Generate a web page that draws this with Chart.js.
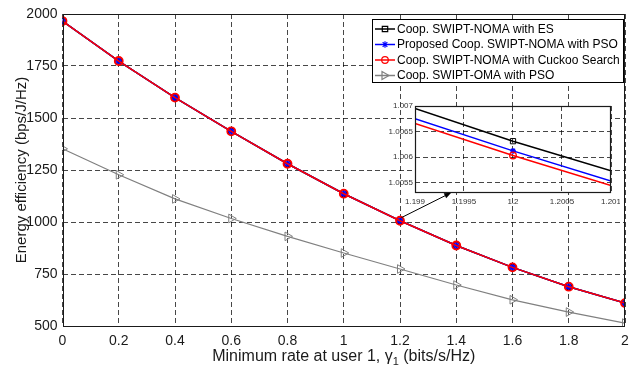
<!DOCTYPE html>
<html><head><meta charset="utf-8">
<script src="https://cdn.jsdelivr.net/npm/chart.js@4.4.1/dist/chart.umd.min.js"></script>
<style>
html,body{margin:0;padding:0;background:#fff;}
#wrap{position:relative;width:631px;height:373px;overflow:hidden;}
#main{position:absolute;left:0;top:0;}
#inset{position:absolute;left:380px;top:100px;}
</style></head><body>
<div id="wrap"><canvas id="main" width="631" height="373"></canvas><canvas id="inset" width="240" height="110"></canvas></div>
<script>
const FONT = "'Liberation Sans', Arial, Helvetica, sans-serif";

// ---- main chart data ----
const xValues = [0, 0.2, 0.4, 0.6, 0.8, 1.0, 1.2, 1.4, 1.6, 1.8, 2.0];
const xTickLabels = ['0', '0.2', '0.4', '0.6', '0.8', '1', '1.2', '1.4', '1.6', '1.8', '2'];
const yTickValues = [500, 750, 1000, 1250, 1500, 1750, 2000];
const yTickLabels = ['500', '750', '1000', '1250', '1500', '1750', '2000'];
const esValues      = [1966, 1774, 1598, 1436, 1280, 1136, 1006.3, 887, 782, 689, 610];
const psoValues     = [1966, 1774, 1598, 1436, 1280, 1136, 1006.1, 887, 782, 689, 610];
const cuckooValues  = [1966, 1774, 1598, 1436, 1280, 1136, 1006.0, 887, 782, 689, 610];
const omaValues     = [1352, 1227, 1111, 1017, 931, 851, 774, 697, 626, 567, 514];
const seriesNames = ['Coop. SWIPT-NOMA with ES', 'Proposed Coop. SWIPT-NOMA with PSO',
                     'Coop. SWIPT-NOMA with Cuckoo Search', 'Coop. SWIPT-OMA with PSO'];
const xTitle = ['Minimum rate at user 1, ', '\u03B3', '1', ' (bits/s/Hz)'];
const yTitle = 'Energy efficiency (bps/J/Hz)';
// arrow annotation (data coords): from main curve near x=1.2 to inset
const arrowFrom = [1.205, 1021];
const arrowTo = [1.382, 1141];

// ---- inset data (values in units of 10^3) ----
const insetX = [1.199, 1.2, 1.201];
const insetXTicks = [1.199, 1.1995, 1.2, 1.2005, 1.201];
const insetXLabels = ['1.199', '1.1995', '1.2', '1.2005', '1.201'];
const insetYTicks = [1.0055, 1.006, 1.0065, 1.007];
const insetYLabels = ['1.0055', '1.006', '1.0065', '1.007'];
const insetES = [1.00695, 1.00631, 1.00573];
const insetPSO = [1.00675, 1.00612, 1.00553];
const insetCuckoo = [1.00666, 1.00603, 1.00544];

const COLORS = ['#000000', '#0000ff', '#ff0000', '#808080'];

function pts(xs, ys) { return xs.map((x, i) => ({x: x, y: ys[i]})); }

function drawMarker(ctx, kind, x, y, color) {
  ctx.save();
  ctx.strokeStyle = color; ctx.lineWidth = 1.2; ctx.setLineDash([]);
  ctx.beginPath();
  if (kind === 'rect') { ctx.rect(x - 2.7, y - 2.7, 5.4, 5.4); }
  else if (kind === 'circle') { ctx.arc(x, y, 3.3, 0, Math.PI * 2); }
  else if (kind === 'star') {
    const r = 3.3;
    ctx.moveTo(x - r, y); ctx.lineTo(x + r, y);
    ctx.moveTo(x, y - r); ctx.lineTo(x, y + r);
    const d = r * 0.707;
    ctx.moveTo(x - d, y - d); ctx.lineTo(x + d, y + d);
    ctx.moveTo(x - d, y + d); ctx.lineTo(x + d, y - d);
  } else if (kind === 'triR') {
    ctx.moveTo(x + 4, y); ctx.lineTo(x - 3, y - 4); ctx.lineTo(x - 3, y + 4); ctx.closePath();
  }
  ctx.stroke();
  ctx.restore();
}

const mainPlugin = {
  id: 'mainDecor',
  beforeDraw(chart) {
    const ctx = chart.ctx;
    ctx.save(); ctx.fillStyle = '#fff'; ctx.fillRect(0, 0, chart.width, chart.height); ctx.restore();
  },
  afterDraw(chart) {
    const ctx = chart.ctx, a = chart.chartArea;
    const xs = chart.scales.x, ys = chart.scales.y;
    ctx.save();
    // box
    ctx.strokeStyle = '#1a1a1a'; ctx.lineWidth = 1; ctx.setLineDash([]);
    ctx.strokeRect(Math.round(a.left) + 0.5, Math.round(a.top) + 0.5,
                   Math.round(a.right) - Math.round(a.left) - 1, Math.round(a.bottom) - Math.round(a.top));
    // arrow
    const x1 = xs.getPixelForValue(arrowFrom[0]), y1 = ys.getPixelForValue(arrowFrom[1]);
    const x2 = xs.getPixelForValue(arrowTo[0]), y2 = ys.getPixelForValue(arrowTo[1]);
    const ang = Math.atan2(y2 - y1, x2 - x1);
    ctx.strokeStyle = '#000'; ctx.fillStyle = '#000'; ctx.lineWidth = 1;
    ctx.beginPath(); ctx.moveTo(x1, y1); ctx.lineTo(x2 - 5 * Math.cos(ang), y2 - 5 * Math.sin(ang)); ctx.stroke();
    ctx.beginPath();
    ctx.moveTo(x2, y2);
    ctx.lineTo(x2 - 7 * Math.cos(ang) + 2.8 * Math.sin(ang), y2 - 7 * Math.sin(ang) - 2.8 * Math.cos(ang));
    ctx.lineTo(x2 - 7 * Math.cos(ang) - 2.8 * Math.sin(ang), y2 - 7 * Math.sin(ang) + 2.8 * Math.cos(ang));
    ctx.closePath(); ctx.fill();
    // legend
    const lx = 372.5, ly = 19.5, lw = 251, lh = 63;
    ctx.fillStyle = '#fff'; ctx.fillRect(lx, ly, lw, lh);
    ctx.strokeStyle = '#000'; ctx.strokeRect(lx, ly, lw, lh);
    const rows = [29, 44.5, 60, 75.5];
    const kinds = ['rect', 'star', 'circle', 'triR'];
    ctx.font = '12px ' + FONT; ctx.textBaseline = 'middle'; ctx.textAlign = 'left';
    rows.forEach((ry, i) => {
      ctx.strokeStyle = COLORS[i]; ctx.lineWidth = 1.5;
      ctx.beginPath(); ctx.moveTo(375, ry); ctx.lineTo(395, ry); ctx.stroke();
      drawMarker(ctx, kinds[i], 385, ry, COLORS[i]);
      ctx.fillStyle = '#000';
      ctx.fillText(seriesNames[i], 397, ry + 0.5);
    });
    // y title
    ctx.save();
    ctx.translate(25.5, (a.top + a.bottom) / 2);
    ctx.rotate(-Math.PI / 2);
    ctx.font = '15px ' + FONT; ctx.textAlign = 'center'; ctx.textBaseline = 'alphabetic'; ctx.fillStyle = '#1a1a1a';
    ctx.fillText(yTitle, 0, 0);
    ctx.restore();
    // x title with subscript
    const big = '16px ' + FONT, small = '11px ' + FONT;
    ctx.font = big; const w0 = ctx.measureText(xTitle[0]).width;
    const w1 = ctx.measureText(xTitle[1]).width;
    const w3 = ctx.measureText(xTitle[3]).width;
    ctx.font = small; const w2 = ctx.measureText(xTitle[2]).width;
    const total = w0 + w1 + w2 + w3;
    let cx = (a.left + a.right) / 2 - total / 2;
    const by = 361;
    ctx.fillStyle = '#1a1a1a'; ctx.textAlign = 'left'; ctx.textBaseline = 'alphabetic';
    ctx.font = big; ctx.fillText(xTitle[0], cx, by); cx += w0;
    ctx.fillText(xTitle[1], cx, by); cx += w1;
    ctx.font = small; ctx.fillText(xTitle[2], cx, by + 4); cx += w2;
    ctx.font = big; ctx.fillText(xTitle[3], cx, by);
    ctx.restore();
  }
};

const gridCfg = {color: 'rgba(0,0,0,0.72)', lineWidth: 1, drawTicks: false};
const noPad = s => { s.paddingLeft = 0; s.paddingRight = 0; s.paddingTop = 0; s.paddingBottom = 0; };

new Chart(document.getElementById('main'), {
  type: 'line',
  data: {
    datasets: [
      {label: seriesNames[0], data: pts(xValues, esValues), borderColor: COLORS[0], borderWidth: 1.5,
       pointStyle: 'rect', pointRadius: 4, pointBorderWidth: 1, pointBorderColor: COLORS[0], pointBackgroundColor: 'rgba(0,0,0,0)', order: 4},
      {label: seriesNames[1], data: pts(xValues, psoValues), borderColor: COLORS[1], borderWidth: 1.5,
       pointStyle: 'star', pointRadius: 3.5, pointBorderWidth: 1.6, pointBorderColor: COLORS[1], pointBackgroundColor: COLORS[1], order: 3},
      {label: seriesNames[2], data: pts(xValues, cuckooValues), borderColor: COLORS[2], borderWidth: 1.5,
       pointStyle: 'circle', pointRadius: 4, pointBorderWidth: 1.8, pointBorderColor: COLORS[2], pointBackgroundColor: 'rgba(0,0,0,0)', order: 2},
      {label: seriesNames[3], data: pts(xValues, omaValues), borderColor: COLORS[3], borderWidth: 1.2,
       pointStyle: 'triangle', pointRotation: 90, pointRadius: 5, pointBorderWidth: 1, pointBorderColor: COLORS[3], pointBackgroundColor: 'rgba(0,0,0,0)', order: 1}
    ]
  },
  options: {
    responsive: false, animation: false, devicePixelRatio: 1,
    layout: {padding: {left: 0, right: 3, top: 14, bottom: 0}},
    elements: {line: {tension: 0}},
    plugins: {legend: {display: false}, tooltip: {enabled: false}},
    scales: {
      x: {
        type: 'linear', min: 0, max: 2,
        afterBuildTicks: s => { s.ticks = xValues.map(v => ({value: v})); },
        afterFit: s => { s.height = 47; noPad(s); },
        grid: gridCfg, border: {display: false, dash: [5, 3]},
        ticks: {autoSkip: false, maxRotation: 0, padding: 7, color: '#1a1a1a', font: {family: FONT, size: 14},
                callback: (v, i) => xTickLabels[i]}
      },
      y: {
        type: 'linear', min: 500, max: 2000,
        afterBuildTicks: s => { s.ticks = yTickValues.map(v => ({value: v})); },
        afterFit: s => { s.width = 62.5; noPad(s); },
        grid: gridCfg, border: {display: false, dash: [5, 3]},
        ticks: {autoSkip: false, padding: 5, color: '#1a1a1a', font: {family: FONT, size: 14},
                callback: (v, i) => yTickLabels[i]}
      }
    }
  },
  plugins: [mainPlugin]
});

const insetPlugin = {
  id: 'insetDecor',
  beforeDraw(chart) {
    const ctx = chart.ctx, a = chart.chartArea;
    ctx.save(); ctx.fillStyle = '#fff'; ctx.fillRect(a.left, a.top, a.right - a.left, a.bottom - a.top); ctx.restore();
  },
  afterDraw(chart) {
    const ctx = chart.ctx, a = chart.chartArea;
    ctx.save();
    ctx.strokeStyle = '#1a1a1a'; ctx.lineWidth = 1.2; ctx.setLineDash([]);
    ctx.strokeRect(Math.round(a.left) + 0.5, Math.round(a.top) + 0.5,
                   Math.round(a.right) - Math.round(a.left) - 1, Math.round(a.bottom) - Math.round(a.top) - 1);
    ctx.restore();
  }
};

const midOnly = r => insetX.map((x, i) => i === 1 ? r : 0);

new Chart(document.getElementById('inset'), {
  type: 'line',
  data: {
    datasets: [
      {data: pts(insetX, insetES), borderColor: COLORS[0], borderWidth: 1.5, pointStyle: 'rect',
       pointRadius: midOnly(3.7), pointBorderWidth: 1, pointBorderColor: COLORS[0], pointBackgroundColor: 'rgba(0,0,0,0)', order: 3},
      {data: pts(insetX, insetPSO), borderColor: COLORS[1], borderWidth: 1.5, pointStyle: 'star',
       pointRadius: midOnly(3), pointBorderWidth: 1.3, pointBorderColor: COLORS[1], order: 2},
      {data: pts(insetX, insetCuckoo), borderColor: COLORS[2], borderWidth: 1.5, pointStyle: 'circle',
       pointRadius: midOnly(3.3), pointBorderWidth: 1.3, pointBorderColor: COLORS[2], pointBackgroundColor: 'rgba(0,0,0,0)', order: 1}
    ]
  },
  options: {
    responsive: false, animation: false, devicePixelRatio: 1,
    layout: {padding: {left: 0, right: 9, top: 6, bottom: 0}},
    elements: {line: {tension: 0}},
    plugins: {legend: {display: false}, tooltip: {enabled: false}},
    scales: {
      x: {
        type: 'linear', min: 1.199, max: 1.201,
        afterBuildTicks: s => { s.ticks = insetXTicks.map(v => ({value: v})); },
        afterFit: s => { s.height = 17.3; noPad(s); },
        grid: gridCfg, border: {display: false, dash: [5, 3]},
        ticks: {autoSkip: false, maxRotation: 0, padding: 4, color: '#333', font: {family: FONT, size: 8},
                callback: (v, i) => insetXLabels[i]}
      },
      y: {
        type: 'linear', min: 1.0053, max: 1.007,
        afterBuildTicks: s => { s.ticks = insetYTicks.map(v => ({value: v})); },
        afterFit: s => { s.width = 35; noPad(s); },
        grid: gridCfg, border: {display: false, dash: [5, 3]},
        ticks: {autoSkip: false, padding: 2, color: '#333', font: {family: FONT, size: 8},
                callback: (v, i) => insetYLabels[i]}
      }
    }
  },
  plugins: [insetPlugin]
});
</script>
</body></html>
